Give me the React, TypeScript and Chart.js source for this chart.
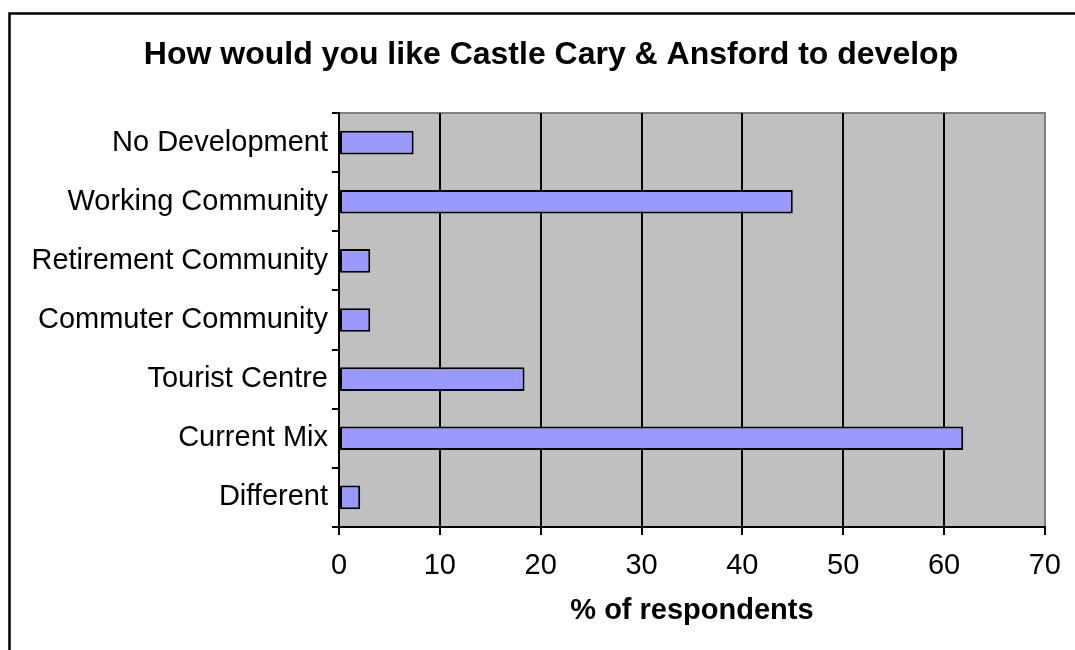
import React, { useEffect, useRef } from "react";
import { Chart, registerables } from "chart.js";

Chart.register(...registerables);

const categories = [
  "No Development",
  "Working Community",
  "Retirement Community",
  "Commuter Community",
  "Tourist Centre",
  "Current Mix",
  "Different",
];
const percentages = [7.4, 45.0, 3.1, 3.1, 18.4, 61.9, 2.1];
const xTicks = [0, 10, 20, 30, 40, 50, 60, 70];
const chartTitle = "How would you like Castle Cary & Ansford to develop";
const xAxisTitle = "% of respondents";

const FONT = "'Liberation Sans', Arial, Helvetica, sans-serif";

const framePlugin = {
  id: "frame",
  beforeDraw(chart: any) {
    const { ctx, chartArea: a } = chart;
    ctx.save();
    ctx.fillStyle = "#ffffff";
    ctx.fillRect(0, 0, chart.width, chart.height);
    ctx.strokeStyle = "#000000";
    ctx.lineWidth = 2.5;
    ctx.strokeRect(9.5, 13.5, 1200, 800);
    ctx.fillStyle = "#C0C0C0";
    ctx.fillRect(a.left, a.top, a.right - a.left, a.bottom - a.top);
    ctx.strokeStyle = "#808080";
    ctx.lineWidth = 2;
    ctx.beginPath();
    ctx.moveTo(a.left, a.top);
    ctx.lineTo(a.right, a.top);
    ctx.lineTo(a.right, a.bottom);
    ctx.stroke();
    // chart title
    ctx.fillStyle = "#000000";
    ctx.font = `bold 32px ${FONT}`;
    ctx.textAlign = "center";
    ctx.textBaseline = "middle";
    ctx.fillText(chartTitle, 551, 55);
    ctx.restore();
  },
};

export default function App() {
  const ref = useRef<HTMLCanvasElement | null>(null);

  useEffect(() => {
    if (!ref.current) return;
    const maxV = xTicks[xTicks.length - 1];
    const chart = new Chart(ref.current, {
      type: "bar",
      data: {
        labels: categories,
        datasets: [
          {
            data: percentages,
            backgroundColor: "#9999FF",
            borderColor: "#000000",
            borderWidth: 2,
            borderSkipped: false,
            barPercentage: 0.4,
            categoryPercentage: 1,
          },
        ],
      },
      options: {
        indexAxis: "y",
        animation: false,
        responsive: false,
        maintainAspectRatio: false,
        layout: { padding: { left: 0, right: 27, top: 113, bottom: 0 } },
        plugins: {
          legend: { display: false },
          tooltip: { enabled: false },
          title: { display: false },
        },
        scales: {
          x: {
            type: "linear",
            position: "bottom",
            min: xTicks[0],
            max: maxV,
            afterFit(scale: any) {
              scale.height = 123;
            },
            ticks: {
              stepSize: xTicks[1] - xTicks[0],
              color: "#000000",
              font: { family: FONT, size: 29 },
              padding: 14,
              maxRotation: 0,
              autoSkip: false,
            },
            grid: {
              color: (c: any) => (c.tick && c.tick.value === maxV ? "#808080" : "#000000"),
              tickColor: "#000000",
              lineWidth: 2,
              tickLength: 8,
              drawOnChartArea: true,
            },
            border: { color: "#000000", width: 2 },
            title: {
              display: true,
              text: xAxisTitle,
              color: "#000000",
              font: { family: FONT, size: 29, weight: "bold", lineHeight: 1.2 },
              padding: { top: 0, bottom: 21.6 },
            },
          },
          y: {
            type: "category",
            position: "left",
            afterFit(scale: any) {
              scale.width = 339;
            },
            ticks: {
              color: "#000000",
              font: { family: FONT, size: 29 },
              padding: 4,
              autoSkip: false,
            },
            grid: {
              drawOnChartArea: false,
              drawTicks: true,
              tickLength: 7,
              color: "#000000",
              lineWidth: 2,
              offset: true,
            },
            border: { color: "#000000", width: 2 },
          },
        },
      },
      plugins: [framePlugin],
    } as any);
    return () => chart.destroy();
  }, []);

  return (
    <div style={{ position: "absolute", left: 0, top: 0, width: 1075, height: 650 }}>
      <canvas ref={ref} width={1075} height={650} style={{ display: "block" }} />
    </div>
  );
}
